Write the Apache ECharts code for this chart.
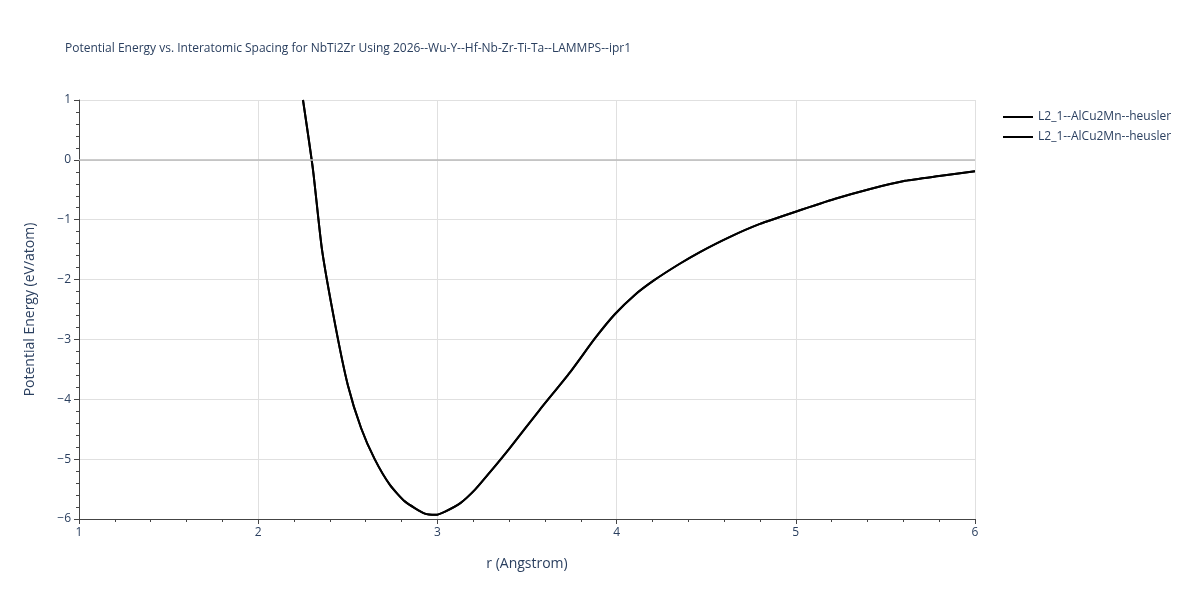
<!DOCTYPE html>
<html><head><meta charset="utf-8">
<script src="https://cdn.jsdelivr.net/npm/echarts@6/dist/echarts.min.js"></script>
<style>html,body{margin:0;padding:0;background:#fff}#c{width:1200px;height:600px}</style>
</head><body><div id="c"></div>
<script>
const rValues=[2.25,2.306,2.356,2.43,2.50,2.574,2.65,2.735,2.82,2.93,2.99,3.04,3.13,3.21,3.29,3.405,3.57,3.74,3.88,3.99,4.10,4.21,4.35,4.465,4.63,4.80,4.995,5.22,5.41,5.61,5.80,6.0];
const energy=[1.0,-0.17,-1.5,-2.76,-3.76,-4.48,-5.0,-5.43,-5.71,-5.91,-5.93,-5.88,-5.73,-5.51,-5.23,-4.81,-4.18,-3.55,-2.98,-2.58,-2.26,-2.01,-1.74,-1.54,-1.29,-1.07,-0.87,-0.65,-0.49,-0.35,-0.27,-0.19];
const seriesNames=["L2_1--AlCu2Mn--heusler","L2_1--AlCu2Mn--heusler\u200b"];
const data=rValues.map((r,i)=>[r,energy[i]]);
const ch=echarts.init(document.getElementById('c'));
const axisCommon={axisLine:{show:true,onZero:false,lineStyle:{color:'#444'}},axisTick:{show:true,length:5,lineStyle:{color:'#444'}},
 minorTick:{show:true,splitNumber:5,length:3,lineStyle:{color:'#444'}},
 axisLabel:{color:'#2a3f5f',fontSize:12,fontFamily:'Open Sans'},splitLine:{show:true,lineStyle:{color:'#e0e0e0'}},
 nameTextStyle:{color:'#2a3f5f',fontSize:14,fontFamily:'Open Sans'}};
ch.setOption({
 animation:false,
 title:{text:'Potential Energy vs. Interatomic Spacing for NbTi2Zr Using 2026--Wu-Y--Hf-Nb-Zr-Ti-Ta--LAMMPS--ipr1',left:60,top:38,textStyle:{fontSize:12,fontWeight:'normal',color:'#2a3f5f',fontFamily:'Open Sans'}},
 legend:{orient:'vertical',left:998,top:106,itemGap:8,itemWidth:30,icon:'path://M0,0L30,0L30,2L0,2Z',textStyle:{color:'#2a3f5f',fontSize:12,fontFamily:'Open Sans'},data:seriesNames.map(n=>({name:n})),
   formatter:n=>n.replace('\u200b','')},
 grid:{left:79,right:225,top:100,bottom:81},
 xAxis:Object.assign({type:'value',min:1,max:6,interval:1,name:'r (Angstrom)',nameLocation:'middle',nameGap:38},axisCommon),
 yAxis:Object.assign({type:'value',min:-6,max:1,interval:1,name:'Potential Energy (eV/atom)',nameLocation:'middle',nameGap:42},axisCommon,
   {axisLabel:{color:'#2a3f5f',fontSize:12,fontFamily:'Open Sans',formatter:v=>v<0?'\u2212'+(-v):v}}),
 series:[
  {name:seriesNames[0],type:'line',data:data,showSymbol:false,smooth:0.2,lineStyle:{color:'#000',width:2},itemStyle:{color:'#000'},
   markLine:{silent:true,symbol:'none',label:{show:false},lineStyle:{color:'#bbb',type:'solid',width:1.5},data:[{yAxis:0}]}},
  {name:seriesNames[1],type:'line',data:data,showSymbol:false,smooth:0.2,lineStyle:{color:'#000',width:2},itemStyle:{color:'#000'}}
 ]
});
</script></body></html>
